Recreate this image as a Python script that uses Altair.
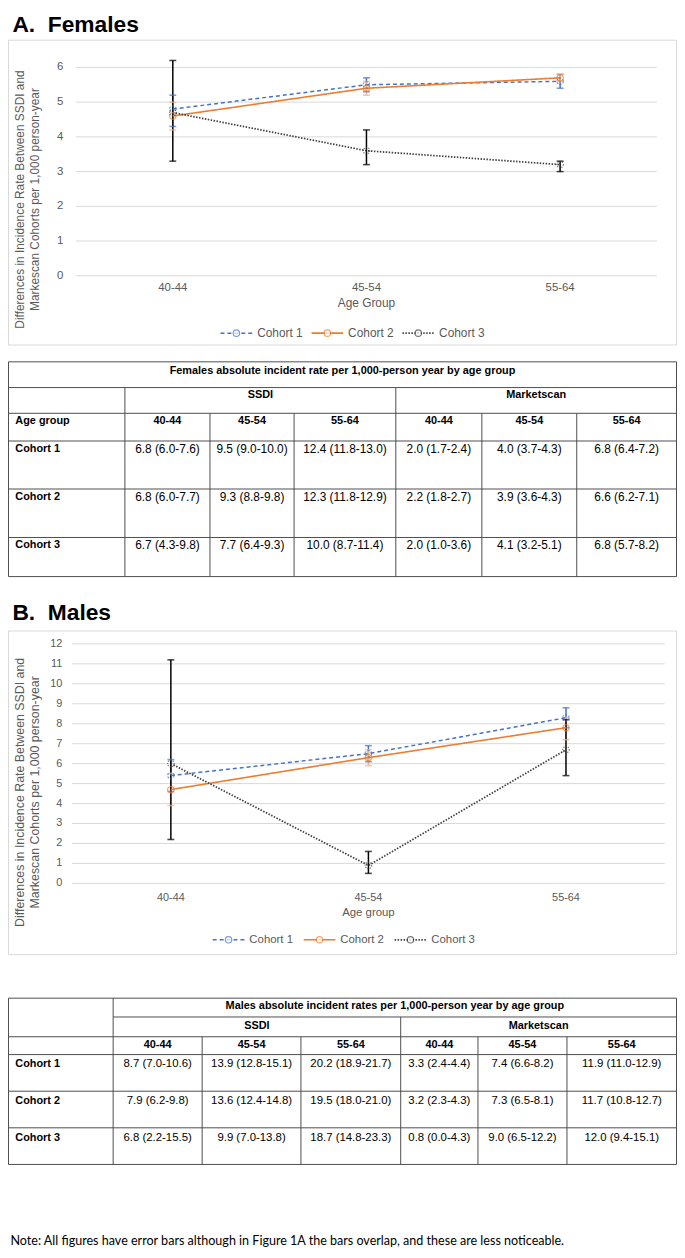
import altair as alt
import pandas as pd

# ---------------- data ----------------
AGES = ["40-44", "45-54", "55-64"]
COHORTS = ["Cohort 1", "Cohort 2", "Cohort 3"]

# Panel A (females): differences in incidence rate, with error bar bounds
F_MEAN_C1 = [4.8, 5.5, 5.6]
F_LO_C1 = [4.3, 5.3, 5.4]
F_HI_C1 = [5.2, 5.7, 5.8]
F_MEAN_C2 = [4.6, 5.4, 5.7]
F_LO_C2 = [4.2, 5.2, 5.6]
F_HI_C2 = [5.0, 5.6, 5.8]
F_MEAN_C3 = [4.7, 3.6, 3.2]
F_LO_C3 = [3.3, 3.2, 3.0]
F_HI_C3 = [6.2, 4.2, 3.3]
F_YTICKS = [0, 1, 2, 3, 4, 5, 6]

# Panel B (males)
M_MEAN_C1 = [5.4, 6.5, 8.3]
M_LO_C1 = [4.6, 6.1, 7.8]
M_HI_C1 = [6.2, 6.9, 8.8]
M_MEAN_C2 = [4.7, 6.3, 7.8]
M_LO_C2 = [3.9, 5.9, 7.2]
M_HI_C2 = [5.5, 6.7, 8.3]
M_MEAN_C3 = [6.0, 0.9, 6.7]
M_LO_C3 = [2.2, 0.5, 5.4]
M_HI_C3 = [11.2, 1.6, 8.2]
M_YTICKS = [0, 1, 2, 3, 4, 5, 6, 7, 8, 9, 10, 11, 12]

# Tables: absolute incident rates
F_SSDI_C1 = ["6.8 (6.0-7.6)", "9.5 (9.0-10.0)", "12.4 (11.8-13.0)"]
F_SSDI_C2 = ["6.8 (6.0-7.7)", "9.3 (8.8-9.8)", "12.3 (11.8-12.9)"]
F_SSDI_C3 = ["6.7 (4.3-9.8)", "7.7 (6.4-9.3)", "10.0 (8.7-11.4)"]
F_MKT_C1 = ["2.0 (1.7-2.4)", "4.0 (3.7-4.3)", "6.8 (6.4-7.2)"]
F_MKT_C2 = ["2.2 (1.8-2.7)", "3.9 (3.6-4.3)", "6.6 (6.2-7.1)"]
F_MKT_C3 = ["2.0 (1.0-3.6)", "4.1 (3.2-5.1)", "6.8 (5.7-8.2)"]
M_SSDI_C1 = ["8.7 (7.0-10.6)", "13.9 (12.8-15.1)", "20.2 (18.9-21.7)"]
M_SSDI_C2 = ["7.9 (6.2-9.8)", "13.6 (12.4-14.8)", "19.5 (18.0-21.0)"]
M_SSDI_C3 = ["6.8 (2.2-15.5)", "9.9 (7.0-13.8)", "18.7 (14.8-23.3)"]
M_MKT_C1 = ["3.3 (2.4-4.4)", "7.4 (6.6-8.2)", "11.9 (11.0-12.9)"]
M_MKT_C2 = ["3.2 (2.3-4.3)", "7.3 (6.5-8.1)", "11.7 (10.8-12.7)"]
M_MKT_C3 = ["0.8 (0.0-4.3)", "9.0 (6.5-12.2)", "12.0 (9.4-15.1)"]

TITLE_A = "A.\u00a0\u00a0Females"
TITLE_B = "B.\u00a0\u00a0Males"
YTITLE_1 = "Differences in Incidence Rate Between SSDI and"
YTITLE_2 = "Markescan Cohorts per 1,000 person-year"
TAB_TITLE_A = "Females absolute incident rate per 1,000-person year by age group"
TAB_TITLE_B = "Males absolute incident rates per 1,000-person year by age group"
GROUPS = ["SSDI", "Marketscan"]
NOTE = ("Note: All figures have error bars although in Figure 1A the bars overlap, "
        "and these are less noticeable.")

# ---------------- style / layout ----------------
FONT = "Liberation Sans, Arial, sans-serif"
NOTE_FONT = "Lato, Carlito, Calibri, sans-serif"
GREY_TXT = "#595959"
LINE_COL = ["#4472C4", "#ED7D31", "#404040"]
ERR_COL = ["#4472C4", "#F4B183", "#000000"]
DASH = [[4, 3], [1, 0], [1.5, 1.5]]
LWIDTH = [1.5, 1.75, 1.25]
TABLE_LINE = "#4d4d4d"

CANVAS_W, CANVAS_H = 676, 1250


def X(px):
    return round(0.5 + (px - 1) * 675 / 683, 2)


def Y(py):
    return py - 8


ONE = pd.DataFrame({"k": [0]})


def chart_layers(mean, lo, hi, yticks, g):
    rows = []
    for ci, c in enumerate(COHORTS):
        for ai, a in enumerate(AGES):
            rows.append({"age": a, "cohort": c, "mean": mean[ci][ai],
                         "lo": lo[ci][ai], "hi": hi[ci][ai]})
    df = pd.DataFrame(rows)
    xsc = alt.Scale(type="point", domain=AGES, range=[X(g["px0"]), X(g["px1"])], padding=0.5)
    ysc = alt.Scale(type="linear", domain=[0, yticks[-1]], range=[Y(g["py0"]), Y(g["pytop"])],
                    nice=False, zero=False)
    lcol = alt.Scale(domain=COHORTS, range=LINE_COL)
    ecol = alt.Scale(domain=COHORTS, range=ERR_COL)
    dsc = alt.Scale(domain=COHORTS, range=DASH)
    wsc = alt.Scale(domain=COHORTS, range=LWIDTH)
    fs = g["fs"]
    out = []
    # frame
    out.append(alt.Chart(ONE).mark_rect(fill="white", fillOpacity=0, stroke="#D9D9D9", strokeWidth=1).encode(
        x=alt.value(X(g["bx0"])), x2=alt.value(X(g["bx1"])),
        y=alt.value(Y(g["by0"])), y2=alt.value(Y(g["by1"]))))
    # panel title
    out.append(alt.Chart(ONE).mark_text(align="left", baseline="alphabetic", font=FONT, fontSize=23,
                                        fontWeight="bold", color="black").encode(
        x=alt.value(X(5)), y=alt.value(Y(g["title_y"])), text=alt.value(g["title"])))
    tdf = pd.DataFrame({"t": yticks})
    # gridlines
    out.append(alt.Chart(tdf).mark_rule(color="#D9D9D9", strokeWidth=1).encode(
        y=alt.Y("t:Q", scale=ysc, axis=None),
        x=alt.value(X(g["px0"])), x2=alt.value(X(g["px1"]))))
    # y tick labels
    out.append(alt.Chart(tdf).mark_text(align="right", baseline="middle", font=FONT, fontSize=fs,
                                        color=GREY_TXT).encode(
        y=alt.Y("t:Q", scale=ysc, axis=None), x=alt.value(X(g["ylab_x"])),
        text=alt.Text("t:Q", format="d")))
    # x tick labels
    out.append(alt.Chart(pd.DataFrame({"age": AGES})).mark_text(
        align="center", baseline="middle", font=FONT, fontSize=fs, color=GREY_TXT).encode(
        x=alt.X("age:N", scale=xsc, axis=None), y=alt.value(Y(g["xlab_y"])), text="age:N"))
    # axis titles
    out.append(alt.Chart(ONE).mark_text(align="center", baseline="middle", font=FONT, fontSize=fs + 0.5,
                                        color=GREY_TXT).encode(
        x=alt.value(X(g["xt_x"])), y=alt.value(Y(g["xt_y"])), text=alt.value(g["xtitle"])))
    for txt, xx in ((YTITLE_1, g["yt_x1"]), (YTITLE_2, g["yt_x2"])):
        out.append(alt.Chart(ONE).mark_text(align="center", baseline="middle", angle=270, font=FONT,
                                            fontSize=g["yt_fs"], color=GREY_TXT).encode(
            x=alt.value(X(xx)), y=alt.value(Y(g["yt_y"])), text=alt.value(txt)))
    # error bars
    out.append(alt.Chart(df).mark_rule(strokeWidth=1.5).encode(
        x=alt.X("age:N", scale=xsc, axis=None),
        y=alt.Y("lo:Q", scale=ysc, axis=None), y2="hi:Q",
        color=alt.Color("cohort:N", scale=ecol, legend=None)))
    for fld in ("lo", "hi"):
        out.append(alt.Chart(df).mark_tick(orient="horizontal", size=7, thickness=1.6).encode(
            x=alt.X("age:N", scale=xsc, axis=None),
            y=alt.Y(fld + ":Q", scale=ysc, axis=None),
            color=alt.Color("cohort:N", scale=ecol, legend=None)))
    # lines
    out.append(alt.Chart(df).mark_line().encode(
        x=alt.X("age:N", scale=xsc, axis=None),
        y=alt.Y("mean:Q", scale=ysc, axis=None),
        color=alt.Color("cohort:N", scale=lcol, legend=None),
        strokeDash=alt.StrokeDash("cohort:N", scale=dsc, legend=None),
        strokeWidth=alt.StrokeWidth("cohort:N", scale=wsc, legend=None)))
    # markers
    out.append(alt.Chart(df).mark_point(shape="circle", filled=False, size=42, strokeWidth=1.2).encode(
        x=alt.X("age:N", scale=xsc, axis=None),
        y=alt.Y("mean:Q", scale=ysc, axis=None),
        color=alt.Color("cohort:N", scale=lcol, legend=None),
        strokeDash=alt.StrokeDash("cohort:N", scale=alt.Scale(domain=COHORTS, range=[[2, 1.5], [1, 0], [1.2, 1.2]]),
                                  legend=None)))
    # legend
    lg = pd.DataFrame({"i": [0, 1, 2], "cohort": COHORTS})
    lxs = alt.Scale(domain=[0, 2], range=[X(g["lg_x"]), X(g["lg_x"] + 2 * g["lg_step"])], nice=False, zero=False)
    out.append(alt.Chart(lg).mark_rule(xOffset=-16, x2Offset=16).encode(
        x=alt.X("i:Q", scale=lxs, axis=None), x2=alt.X2("i"),
        y=alt.value(Y(g["lg_y"])),
        color=alt.Color("cohort:N", scale=lcol, legend=None),
        strokeDash=alt.StrokeDash("cohort:N", scale=dsc, legend=None),
        strokeWidth=alt.StrokeWidth("cohort:N", scale=wsc, legend=None)))
    out.append(alt.Chart(lg).mark_point(shape="circle", filled=False, size=42, strokeWidth=1.2,
                                        fill="white").encode(
        x=alt.X("i:Q", scale=lxs, axis=None), y=alt.value(Y(g["lg_y"])),
        color=alt.Color("cohort:N", scale=lcol, legend=None)))
    out.append(alt.Chart(lg).mark_text(align="left", baseline="middle", dx=21, font=FONT, fontSize=fs + 0.5,
                                       color=GREY_TXT).encode(
        x=alt.X("i:Q", scale=lxs, axis=None), y=alt.value(Y(g["lg_y"])), text="cohort:N"))
    return out


def table_layers(t):
    cols, rows = t["cols"], t["rows"]
    x0, y0 = cols[0], rows[0]
    W, H = cols[-1] - x0, rows[-1] - y0
    xs = alt.Scale(domain=[0, W], range=[X(cols[0]), X(cols[-1])], nice=False, zero=False)
    ys = alt.Scale(domain=[0, H], range=[Y(rows[0]), Y(rows[-1])], nice=False, zero=False)
    cx = [c - x0 for c in cols]
    ry = [r - y0 for r in rows]
    pads = t["pads"]
    out = []
    hd = pd.DataFrame([{"y": ry[r], "xa": cx[a], "xb": cx[b]} for r, a, b in t["hsegs"]])
    vd = pd.DataFrame([{"x": cx[c], "ya": ry[a], "yb": ry[b]} for c, a, b in t["vsegs"]])
    out.append(alt.Chart(hd).mark_rule(color=TABLE_LINE, strokeWidth=1).encode(
        y=alt.Y("y:Q", scale=ys, axis=None), x=alt.X("xa:Q", scale=xs, axis=None), x2="xb:Q"))
    out.append(alt.Chart(vd).mark_rule(color=TABLE_LINE, strokeWidth=1).encode(
        x=alt.X("x:Q", scale=xs, axis=None), y=alt.Y("ya:Q", scale=ys, axis=None), y2="yb:Q"))
    bold_c = []
    a0, a1 = t["title_span"]
    bold_c.append({"x": (cx[a0] + cx[a1]) / 2, "y": ry[0] + pads[0], "s": t["title"]})
    bold_c.append({"x": (cx[1] + cx[4]) / 2, "y": ry[1] + pads[1], "s": GROUPS[0]})
    bold_c.append({"x": (cx[4] + cx[7]) / 2, "y": ry[1] + pads[1], "s": GROUPS[1]})
    for k in range(6):
        bold_c.append({"x": (cx[k + 1] + cx[k + 2]) / 2, "y": ry[2] + pads[2], "s": AGES[k % 3]})
    bold_l = []
    if t["age_label"]:
        bold_l.append({"x": 7, "y": ry[2] + pads[2], "s": t["age_label"]})
    vals = []
    for ci, c in enumerate(COHORTS):
        bold_l.append({"x": 7, "y": ry[3 + ci] + pads[3], "s": c})
        row = list(t["ssdi"][ci]) + list(t["mkt"][ci])
        for k, s in enumerate(row):
            vals.append({"x": (cx[k + 1] + cx[k + 2]) / 2, "y": ry[3 + ci] + pads[3], "s": s})
    for data, align, weight, fsz in (
            (bold_c, "center", "bold", t["fs_head"]),
            (bold_l, "left", "bold", t["fs_head"]),
            (vals, "center", "normal", t["fs_val"])):
        out.append(alt.Chart(pd.DataFrame(data)).mark_text(
            align=align, baseline="middle", font=FONT, fontSize=fsz, fontWeight=weight, color="black").encode(
            x=alt.X("x:Q", scale=xs, axis=None), y=alt.Y("y:Q", scale=ys, axis=None), text="s:N"))
    return out


GEOM_A = dict(title=TITLE_A, title_y=25.5, bx0=1, bx1=684, by0=34, by1=342,
              px0=70, px1=664, py0=272, pytop=61.5, ylab_x=57, xlab_y=284, fs=11.5,
              xtitle="Age Group", xt_x=367, xt_y=300, yt_x1=13, yt_x2=28, yt_y=195, yt_fs=12,
              lg_x=234, lg_step=93, lg_y=330)
GEOM_B = dict(title=TITLE_B, title_y=620, bx0=1, bx1=684, by0=631, by1=958,
              px0=66, px1=672, py0=886, pytop=644, ylab_x=56, xlab_y=901, fs=11,
              xtitle="Age group", xt_x=369, xt_y=916, yt_x1=13, yt_x2=28, yt_y=794, yt_fs=12.5,
              lg_x=226, lg_step=93, lg_y=943)

TAB_A = dict(cols=[1, 120, 207, 293, 397, 485, 582, 684],
             rows=[359, 385, 411, 439, 487.5, 536.5, 576],
             hsegs=[(0, 0, 7), (1, 0, 7), (2, 0, 7), (3, 0, 7), (4, 0, 7), (5, 0, 7), (6, 0, 7)],
             vsegs=[(0, 0, 6), (7, 0, 6), (1, 1, 6), (4, 1, 6), (2, 2, 6), (3, 2, 6), (5, 2, 6), (6, 2, 6)],
             title=TAB_TITLE_A, title_span=(0, 7), age_label="Age group",
             ssdi=[F_SSDI_C1, F_SSDI_C2, F_SSDI_C3], mkt=[F_MKT_C1, F_MKT_C2, F_MKT_C3],
             pads=[9, 8, 8, 8], fs_head=11, fs_val=12)
TAB_B = dict(cols=[1, 108, 199, 300, 402, 481, 572, 684],
             rows=[1002, 1021, 1041, 1059, 1096, 1133, 1170],
             hsegs=[(0, 0, 7), (1, 1, 7), (2, 0, 7), (3, 0, 7), (4, 0, 7), (5, 0, 7), (6, 0, 7)],
             vsegs=[(0, 0, 6), (7, 0, 6), (1, 0, 6), (4, 1, 6), (2, 2, 6), (3, 2, 6), (5, 2, 6), (6, 2, 6)],
             title=TAB_TITLE_B, title_span=(1, 7), age_label="",
             ssdi=[M_SSDI_C1, M_SSDI_C2, M_SSDI_C3], mkt=[M_MKT_C1, M_MKT_C2, M_MKT_C3],
             pads=[8, 9, 8, 10], fs_head=11, fs_val=11.5)

layers = []
layers += chart_layers([F_MEAN_C1, F_MEAN_C2, F_MEAN_C3], [F_LO_C1, F_LO_C2, F_LO_C3],
                       [F_HI_C1, F_HI_C2, F_HI_C3], F_YTICKS, GEOM_A)
layers += table_layers(TAB_A)
layers += chart_layers([M_MEAN_C1, M_MEAN_C2, M_MEAN_C3], [M_LO_C1, M_LO_C2, M_LO_C3],
                       [M_HI_C1, M_HI_C2, M_HI_C3], M_YTICKS, GEOM_B)
layers += table_layers(TAB_B)
layers.append(alt.Chart(ONE).mark_text(align="left", baseline="middle", font=NOTE_FONT, fontSize=12.7,
                                       color="black").encode(
    x=alt.value(X(3)), y=alt.value(Y(1247)), text=alt.value(NOTE)))

chart = alt.layer(*layers).resolve_scale(
    x="independent", y="independent", color="independent",
    strokeDash="independent", strokeWidth="independent"
).properties(
    width=CANVAS_W, height=CANVAS_H, padding=0, background="white",
    autosize=alt.AutoSizeParams(type="none")
).configure_view(stroke=None)

chart.save("out.html", embed_options={"renderer": "svg", "actions": False})
